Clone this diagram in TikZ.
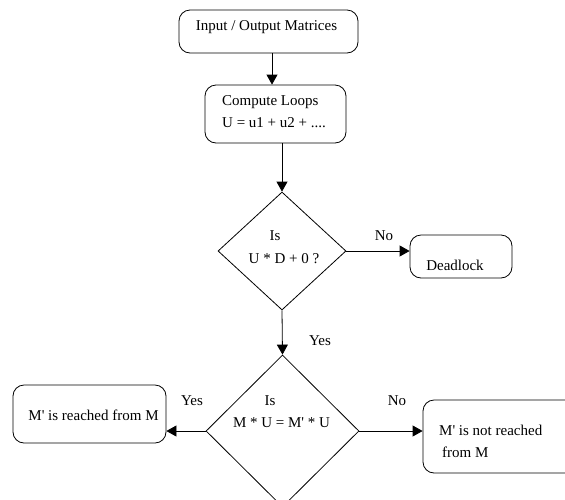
\documentclass[tikz,border=0pt]{standalone}
\usepackage{fontspec}
\setmainfont{Liberation Serif}
\usetikzlibrary{shapes.geometric,arrows.meta}
\begin{document}
\begin{tikzpicture}[x=1pt,y=-1pt,
  box/.style={draw, rounded corners=11pt, line width=0.8pt, inner sep=0pt},
  dia/.style={draw, diamond, line width=0.8pt, inner sep=0pt},
  txt/.style={inner sep=0pt, font=\fontsize{15}{18}\selectfont},
  arr/.style={line width=0.8pt, -{Triangle[length=10pt,width=11pt]}}]
\useasboundingbox (0,0) rectangle (565,499);
\clip (0,0) rectangle (565,499);
% shapes
\node[box, minimum width=179pt, minimum height=43pt] (b1) at (268.5,31.5) {};
\node[box, minimum width=141pt, minimum height=58pt] (b2) at (275.5,114) {};
\node[dia, minimum width=128pt, minimum height=118pt] (d1) at (282,251) {};
\node[box, minimum width=102pt, minimum height=43pt] (dl) at (461,256.5) {};
\node[dia, minimum width=153pt, minimum height=152pt] (d2) at (282.5,431) {};
\node[box, minimum width=153pt, minimum height=58pt] (lb) at (89.5,414) {};
\node[box, minimum width=167pt, minimum height=73pt] (rb) at (506.5,436.5) {};
% texts
\node[txt, anchor=base] (t1) at (266.5,30) {Input / Output Matrices};
\node[txt, anchor=base west] (t2) at (222,105) {Compute Loops};
\node[txt, anchor=base west] (t3) at (222,127) {U = u1 + u2 + ....};
\node[txt, anchor=base] (t4) at (275,240) {Is};
\node[txt, anchor=base] (t5) at (284,263) {U * D + 0 ?};
\node[txt, anchor=base] (t6) at (384,240) {No};
\node[txt, anchor=base] (t7) at (455,270) {Deadlock};
\node[txt, anchor=base] (t8) at (320,345) {Yes};
\node[txt, anchor=base] (t9) at (270,405) {Is};
\node[txt, anchor=base] (t10) at (281.5,427) {M * U = M\textquotesingle{} * U};
\node[txt, anchor=base] (t11) at (192,405) {Yes};
\node[txt, anchor=base] (t12) at (93.5,420) {M\textquotesingle{} is reached from M};
\node[txt, anchor=base] (t13) at (397,405) {No};
\node[txt, anchor=base west] (t14) at (439,435) {M\textquotesingle{} is not reached};
\node[txt, anchor=base west] (t15) at (442,457) {from M};
% connectors
\coordinate (a1) at (272,0);
\draw[arr] (b1.south -| a1) -- (b2.north -| a1);
\draw[arr] (b2.south -| d1.north) -- (d1.north);
\draw[arr] (d1.east) -- (d1.east -| dl.west);
\draw[arr] (d1.south) -- (d2.north);
\draw[arr] (d2.west) -- (d2.west -| lb.east);
\draw[arr] (d2.east) -- (d2.east -| rb.west);
\end{tikzpicture}
\end{document}
